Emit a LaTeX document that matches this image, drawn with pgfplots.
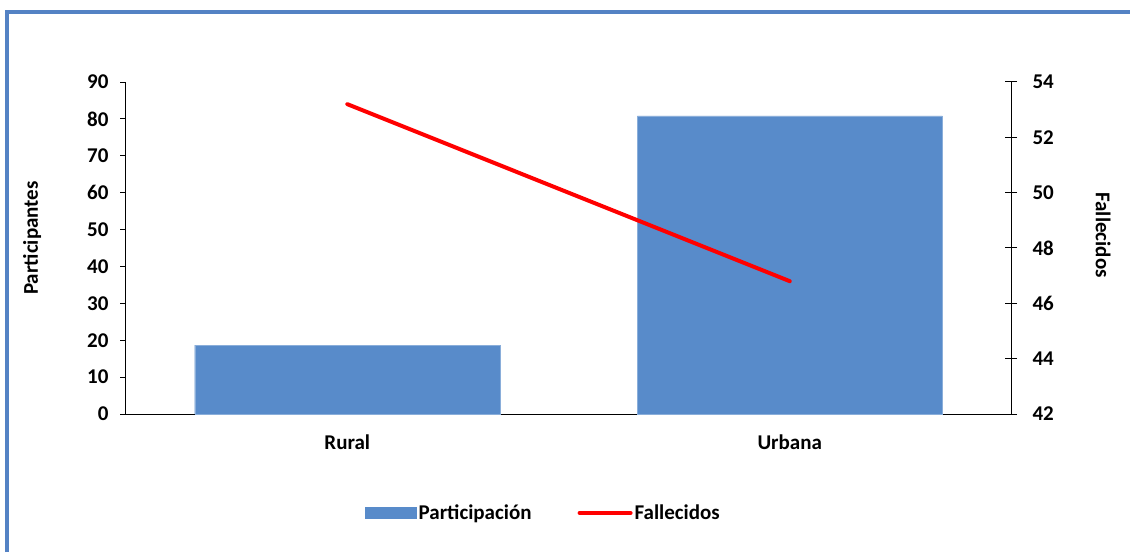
\documentclass[border=0pt]{standalone}
\usepackage{pgfplots}
\pgfplotsset{compat=1.18}
\usepackage{fontspec}
\setmainfont{Carlito}
\definecolor{barblue}{RGB}{88,139,202}
\definecolor{frameblue}{RGB}{84,130,196}
\begin{document}
\begin{tikzpicture}[x=1pt,y=1pt]
\useasboundingbox (0,0) rectangle (1130,552);
\draw[frameblue, line width=4pt] (7,0) -- (7,540) -- (1130,540);
\begin{axis}[
  at={(126pt,138pt)}, anchor=south west,
  scale only axis, width=885pt, height=332pt,
  xmin=-0.5, xmax=1.5, ymin=0, ymax=90,
  axis y line*=left, axis x line*=bottom,
  axis line style={line width=1pt},
  xtick=data, xticklabels={Rural,Urbana},
  xtick style={draw=none},
  ytick={0,10,...,90},
  tick align=outside, major tick length=6pt,
  tick style={line width=1pt, black},
  ticklabel style={font=\fontsize{21}{25}\selectfont\bfseries},
  /pgf/number format/assume math mode=true,
  xticklabel style={yshift=-11pt},
  yticklabel style={xshift=-8pt},
  ylabel={Participantes},
  ylabel style={at={(axis description cs:-0.106,0.53)}, anchor=center, font=\fontsize{21}{25}\selectfont\bfseries},
  ybar, bar width=305pt,
]
\addplot[fill=barblue, draw=barblue!70!white] coordinates {(0,18.7) (1,80.8)};
\end{axis}
\begin{axis}[
  at={(126pt,138pt)}, anchor=south west,
  scale only axis, width=885pt, height=332pt,
  xmin=-0.5, xmax=1.5, ymin=42, ymax=54,
  axis y line*=right, axis x line=none,
  axis line style={line width=1pt},
  ytick={42,44,...,54},
  tick align=center, major tick length=12pt,
  tick style={line width=1pt, black},
  ticklabel style={font=\fontsize{21}{25}\selectfont\bfseries},
  /pgf/number format/assume math mode=true,
  yticklabel style={xshift=12pt},
  ylabel={Fallecidos},
  ylabel style={at={(axis description cs:1.104,0.539)}, anchor=center, rotate=180, font=\fontsize{21}{25}\selectfont\bfseries},
  legend columns=2,
  legend style={at={(rel axis cs:0.2667,-0.298)}, anchor=west, draw=none, fill=none,
    font=\fontsize{21}{25}\selectfont\bfseries,
    nodes={inner sep=2pt, anchor=west},
    /tikz/every even column/.append style={column sep=44pt}},
]
\addlegendimage{legend image code/.code={\fill[barblue] (0pt,-5.5pt) rectangle (51pt,5.5pt);}}
\addlegendentry{Participación}
\addplot[red, line width=4pt, line cap=round,
  legend image code/.code={\draw[red, line width=4pt, line cap=round] (0pt,0pt) -- (51pt,0pt);}]
  coordinates {(0,53.2) (1,46.8)};
\addlegendentry{Fallecidos}
\end{axis}
\end{tikzpicture}
\end{document}
